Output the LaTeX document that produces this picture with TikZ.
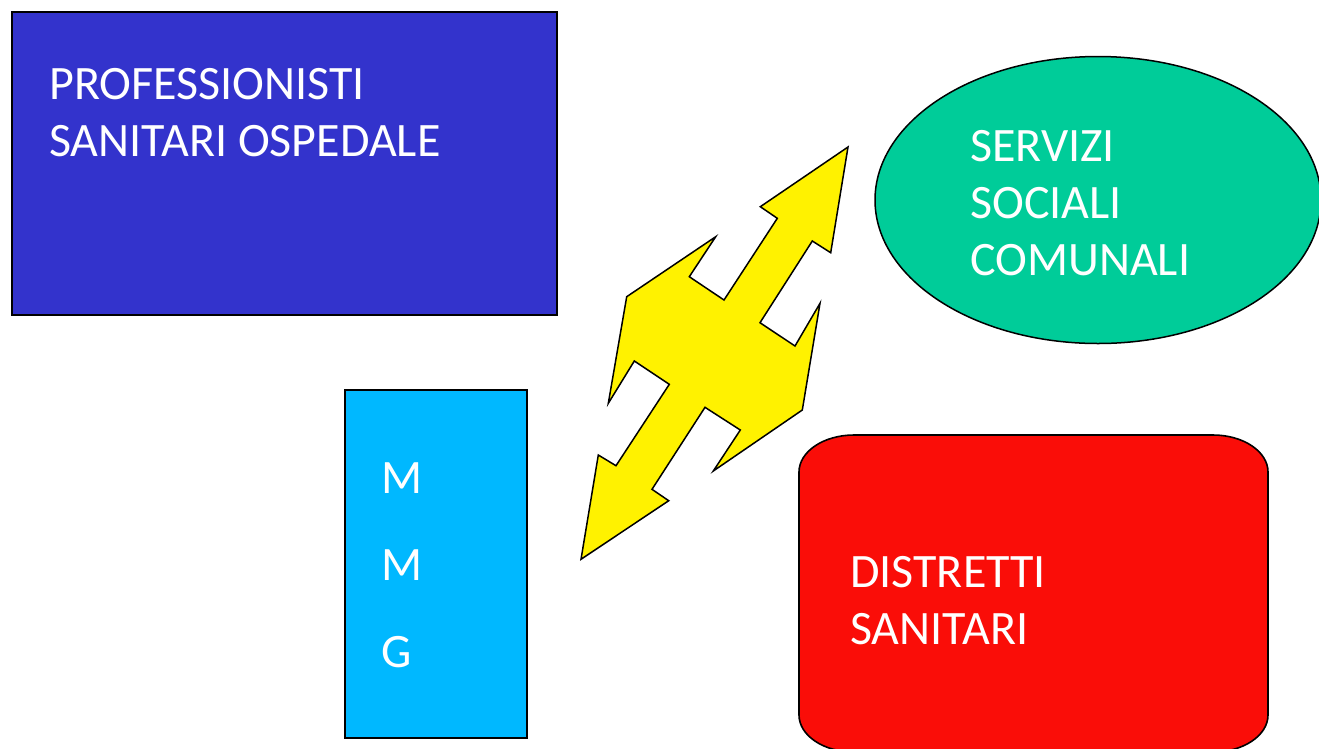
\documentclass[tikz,border=0pt]{standalone}
\usepackage{fontspec}
\setmainfont{Carlito}
\usetikzlibrary{shapes.geometric}
\definecolor{ospblue}{RGB}{51,51,204}
\definecolor{mmgcyan}{RGB}{0,184,255}
\definecolor{socgreen}{RGB}{0,204,153}
\definecolor{distred}{RGB}{250,13,8}
\tikzset{box/.style={draw=black, line width=2pt, inner sep=0pt, outer sep=0pt, anchor=north west},
  lbl/.style={white, inner sep=0pt, anchor=base west, align=left, font=\fontsize{48}{57}\selectfont}}

\begin{document}
\begin{tikzpicture}[x=1pt, y=-1pt]
            \useasboundingbox (0,0) rectangle (1319,748); \clip (0,0) rectangle (1319,748);
            \node[box, fill=ospblue, minimum width=545pt, minimum height=303pt] (osp) at (12,12) {};
            \node[box, fill=mmgcyan, minimum width=182pt, minimum height=348pt] (mmg) at (345,390) {};
            \node[draw=black, line width=1.5pt, fill=socgreen, ellipse, inner sep=0pt, minimum width=446pt, minimum height=287pt] (soc) at (1098,200) {};
            \draw[line width=1.6pt, fill=distred] (799,472) .. controls (799,451.6) and (823.6,435) .. (854,435) -- (1213,435)
              .. controls (1243.4,435) and (1268,451.6) .. (1268,472) -- (1268,715) .. controls (1268,735.4) and (1243.4,752) .. (1213,752)
              -- (854,752) .. controls (823.6,752) and (799,735.4) .. (799,715) -- cycle;
            % Double arrow between the boxes
            \draw[line width=1.5pt, fill=yellow, line join=miter] (848,147) -- (830.7,252.7) -- (812.3,241) -- (760,322.7) -- (795,346) -- (820,303.3)
              -- (802.3,410) -- (713.3,471) -- (740.3,430) -- (705,407.3) -- (652,489.3) -- (668.7,500.7) -- (581,559.3) -- (598.3,455)
              -- (616,465.7) -- (669.3,384.3) -- (634.3,361) -- (608.3,403.3) -- (626.7,296.7) -- (715.7,236.7) -- (689.3,276.7)
              -- (724,300) -- (777.3,218.3) -- (760.3,206.7) -- cycle;
            % Labels (anchored at the last baseline)
            \node[lbl] (ospText) at (49,156.7) {PROFESSIONISTI\\SANITARI OSPEDALE};
            \node[lbl, font=\fontsize{48}{87}\selectfont] (mmgText) at (381.5,667) {M\\M\\G};
            \node[lbl] (socText) at (970,275) {SERVIZI\\SOCIALI\\COMUNALI};
            \node[lbl] (distText) at (850,644) {DISTRETTI\\SANITARI};
        \end{tikzpicture}
\end{document}
